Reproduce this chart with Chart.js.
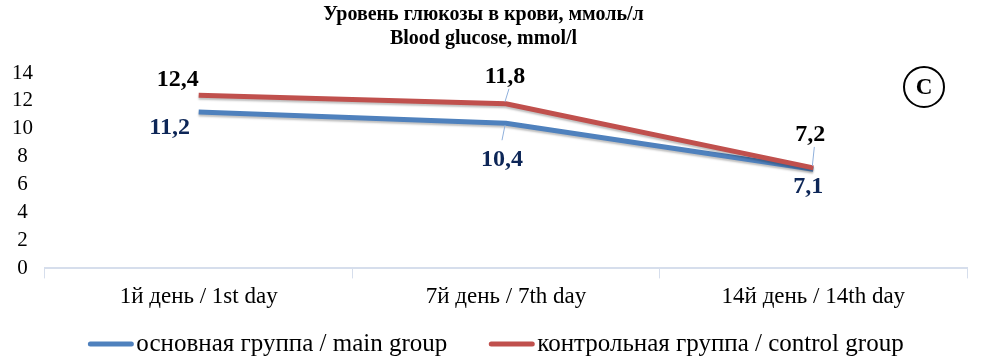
<!DOCTYPE html>
<html lang="ru">
  <head>
    <meta charset="utf-8">
    <script src="https://cdn.jsdelivr.net/npm/chart.js"></script>
    <title>Blood glucose</title>
    <style>
      body { margin: 0; background: #fff; }
      #chart { width: 982px; height: 363px; }
    </style>
  </head>
  <body>
    <div id="chart"><canvas id="c" width="982" height="363"></canvas></div>
  </body>
  <script>
    // data
    const days = ['1й день / 1st day', '7й день / 7th day', '14й день / 14th day'];
    const mainGroup = [11.2, 10.4, 7.1];
    const controlGroup = [12.4, 11.8, 7.2];
    const yTicks = [0, 2, 4, 6, 8, 10, 12, 14];

    const serif = "'Liberation Serif', 'DejaVu Serif', serif";
    const blue = '#4f81bd';
    const red = '#c0504d';
    Chart.defaults.font.family = serif;

    // label offsets from the point, plus optional leader line
    const labelPos = [
      [{dx: -29, dy: 16}, {dx: -4, dy: 37, lead: true}, {dx: -5, dy: 17}],
      [{dx: -21, dy: -16}, {dx: -1, dy: -27, lead: true}, {dx: -3, dy: -33, lead: true}]
    ];
    const labelColors = ['#0d2657', '#000'];

    const valueLabels = {
      id: 'valueLabels',
      afterDatasetsDraw(chart) {
        const ctx = chart.ctx;
        ctx.save();
        ctx.font = 'bold 24px ' + serif;
        ctx.textAlign = 'center';
        ctx.textBaseline = 'middle';
        chart.data.datasets.forEach((ds, i) => {
          chart.getDatasetMeta(i).data.forEach((pt, j) => {
            const p = labelPos[i][j];
            const lx = pt.x + p.dx, ly = pt.y + p.dy;
            if (p.lead) {
              ctx.strokeStyle = '#8fb0dc';
              ctx.lineWidth = 1;
              ctx.beginPath();
              ctx.moveTo(pt.x - 1, pt.y + (p.dy > 0 ? 2 : -2));
              ctx.lineTo(lx + (p.dy > 0 ? 0 : 4), ly + (p.dy > 0 ? -20 : 12));
              ctx.stroke();
            }
            ctx.fillStyle = labelColors[i];
            ctx.fillText(String(ds.data[j]).replace('.', ','), lx, ly);
          });
        });
        // panel letter
        const cx = chart.chartArea.right - 43, cy = 87;
        ctx.strokeStyle = '#000';
        ctx.lineWidth = 2;
        ctx.beginPath();
        ctx.arc(cx, cy, 20, 0, Math.PI * 2);
        ctx.stroke();
        ctx.fillStyle = '#000';
        ctx.font = 'bold 23px ' + serif;
        ctx.fillText('C', cx, cy + 1);
        ctx.restore();
      }
    };

    // legend drawn by hand: line swatch right against the text
    const bottomLegend = {
      id: 'bottomLegend',
      afterDraw(chart) {
        const ctx = chart.ctx;
        ctx.save();
        ctx.font = '25px ' + serif;
        ctx.textBaseline = 'middle';
        ctx.fillStyle = '#000';
        const sw = 45, gap = 3, itemGap = 42, y = 344;
        const items = chart.data.datasets.map(ds => ({ ds, w: ctx.measureText(ds.label).width }));
        const total = items.reduce((s, it) => s + sw + gap + it.w, 0) + itemGap * (items.length - 1);
        let x = 496 - total / 2;
        items.forEach(it => {
          ctx.strokeStyle = it.ds.borderColor;
          ctx.lineWidth = 5;
          ctx.lineCap = 'round';
          ctx.beginPath();
          ctx.moveTo(x + 2, y);
          ctx.lineTo(x + sw - 2, y);
          ctx.stroke();
          ctx.fillText(it.ds.label, x + sw + gap, y);
          x += sw + gap + it.w + itemGap;
        });
        ctx.restore();
      }
    };

    const lineShadow = {
      id: 'lineShadow',
      beforeDatasetDraw(chart) {
        chart.ctx.save();
        chart.ctx.shadowColor = 'rgba(0,0,0,0.25)';
        chart.ctx.shadowOffsetY = 2;
        chart.ctx.shadowBlur = 2;
      },
      afterDatasetDraw(chart) {
        chart.ctx.restore();
      }
    };

    new Chart(document.getElementById('c'), {
      type: 'line',
      data: {
        labels: days,
        datasets: [{
          label: 'основная группа / main group',
          data: mainGroup,
          borderColor: blue,
          backgroundColor: blue,
          borderWidth: 5,
          pointRadius: 0,
          order: 1
        }, {
          label: 'контрольная группа / control group',
          data: controlGroup,
          borderColor: red,
          backgroundColor: red,
          borderWidth: 5,
          pointRadius: 0,
          order: 0
        }]
      },
      options: {
        responsive: false,
        animation: false,
        layout: { padding: { left: 0, right: 15, top: 0, bottom: 47 } },
        plugins: {
          title: {
            display: true,
            text: ['Уровень глюкозы в крови, ммоль/л', 'Blood glucose, mmol/l'],
            color: '#000',
            font: { family: serif, size: 20, weight: 'bold', lineHeight: 1.2 },
            padding: { top: 3, bottom: 22 }
          },
          legend: { display: false },
          tooltip: { enabled: false }
        },
        scales: {
          x: {
            offset: true,
            grid: { offset: true, drawOnChartArea: false, tickLength: 10, color: '#d6deec' },
            border: { color: '#d6deec', width: 2 },
            ticks: { color: '#000', font: { family: serif, size: 23 }, padding: 5 }
          },
          y: {
            min: 0,
            max: 14,
            afterBuildTicks: axis => { axis.ticks = yTicks.map(v => ({ value: v })); },
            afterFit: axis => { axis.width = 45; },
            grid: { display: false },
            border: { display: false },
            ticks: { color: '#000', font: { family: serif, size: 21 }, crossAlign: 'center', padding: 4, autoSkip: false }
          }
        }
      },
      plugins: [valueLabels, bottomLegend, lineShadow]
    });
  </script>
</html>
